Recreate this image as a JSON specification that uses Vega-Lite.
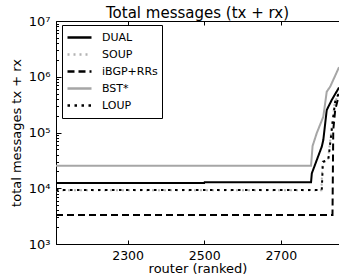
{
  "$schema": "https://vega.github.io/schema/vega-lite/v6.json",
  "autosize": "none",
  "width": 283,
  "height": 223,
  "padding": {"left": 56, "top": 21, "right": 0, "bottom": 35},
  "background": "white",
  "title": {"text": "Total messages (tx + rx)", "font": "DejaVu Sans", "fontSize": 15, "fontWeight": "normal", "color": "black", "offset": -6, "anchor": "middle", "frame": "group"},
  "config": {
    "view": {"stroke": "black", "strokeWidth": 1},
    "font": "DejaVu Sans",
    "axis": {"grid": false, "domainColor": "black", "tickColor": "black", "labelColor": "black", "titleColor": "black", "labelFont": "DejaVu Sans", "titleFont": "DejaVu Sans", "labelFontSize": 13, "titleFontSize": 13, "titleFontWeight": "normal"}
  },
  "data": {"values": [
    {"scheme": "DUAL", "router": 2113, "msgs": 12400},
    {"scheme": "DUAL", "router": 2500, "msgs": 12400},
    {"scheme": "DUAL", "router": 2501, "msgs": 12800},
    {"scheme": "DUAL", "router": 2779, "msgs": 12800},
    {"scheme": "DUAL", "router": 2781, "msgs": 18500},
    {"scheme": "DUAL", "router": 2794, "msgs": 32100},
    {"scheme": "DUAL", "router": 2807, "msgs": 55600},
    {"scheme": "DUAL", "router": 2811, "msgs": 73300},
    {"scheme": "DUAL", "router": 2820, "msgs": 253000},
    {"scheme": "DUAL", "router": 2833, "msgs": 383000},
    {"scheme": "DUAL", "router": 2852, "msgs": 640000},
    {"scheme": "SOUP", "router": 2113, "msgs": 9200},
    {"scheme": "SOUP", "router": 2806, "msgs": 9200},
    {"scheme": "SOUP", "router": 2809, "msgs": 29000},
    {"scheme": "SOUP", "router": 2823, "msgs": 31500},
    {"scheme": "SOUP", "router": 2836, "msgs": 185000},
    {"scheme": "SOUP", "router": 2841, "msgs": 350000},
    {"scheme": "SOUP", "router": 2852, "msgs": 500000},
    {"scheme": "iBGP+RRs", "router": 2113, "msgs": 3310},
    {"scheme": "iBGP+RRs", "router": 2835, "msgs": 3310},
    {"scheme": "iBGP+RRs", "router": 2837, "msgs": 111000},
    {"scheme": "iBGP+RRs", "router": 2842, "msgs": 253000},
    {"scheme": "iBGP+RRs", "router": 2852, "msgs": 480000},
    {"scheme": "BST*", "router": 2113, "msgs": 25400},
    {"scheme": "BST*", "router": 2779, "msgs": 25400},
    {"scheme": "BST*", "router": 2783, "msgs": 57300},
    {"scheme": "BST*", "router": 2794, "msgs": 98000},
    {"scheme": "BST*", "router": 2811, "msgs": 192000},
    {"scheme": "BST*", "router": 2820, "msgs": 540000},
    {"scheme": "BST*", "router": 2829, "msgs": 664000},
    {"scheme": "BST*", "router": 2852, "msgs": 1480000},
    {"scheme": "LOUP", "router": 2113, "msgs": 9300},
    {"scheme": "LOUP", "router": 2807, "msgs": 9300},
    {"scheme": "LOUP", "router": 2810, "msgs": 29900},
    {"scheme": "LOUP", "router": 2824, "msgs": 32100},
    {"scheme": "LOUP", "router": 2837, "msgs": 192000},
    {"scheme": "LOUP", "router": 2842, "msgs": 357000},
    {"scheme": "LOUP", "router": 2852, "msgs": 520000}
  ]},
  "layer": [
    {
      "mark": {"type": "line", "strokeWidth": 2, "clip": true, "interpolate": "linear"},
      "encoding": {
        "x": {"field": "router", "type": "quantitative", "scale": {"domain": [2113, 2852], "nice": false, "zero": false},
              "axis": {"title": "router (ranked)", "values": [2300, 2500, 2700], "format": "d", "tickSize": -4, "labelFontSize": 12.5, "labelPadding": 9, "titlePadding": 1, "labelFlush": false}},
        "y": {"field": "msgs", "type": "quantitative", "scale": {"type": "log", "domain": [1000, 10000000], "nice": false},
              "axis": {"title": "total messages tx + rx",
                       "values": [1000, 2000, 3000, 4000, 5000, 6000, 7000, 8000, 9000, 10000, 20000, 30000, 40000, 50000, 60000, 70000, 80000, 90000, 100000, 200000, 300000, 400000, 500000, 600000, 700000, 800000, 900000, 1000000, 2000000, 3000000, 4000000, 5000000, 6000000, 7000000, 8000000, 9000000, 10000000],
                       "tickSize": {"condition": {"test": "abs(log(datum.value)/LN10 - round(log(datum.value)/LN10)) < 0.001", "value": -5}, "value": -2.5},
                       "labelPadding": 11, "titlePadding": 5, "labelOverlap": false,
                       "labelExpr": "abs(log(datum.value)/LN10 - round(log(datum.value)/LN10)) < 0.001 ? '10' + ['⁰','¹','²','³','⁴','⁵','⁶','⁷'][round(log(datum.value)/LN10)] : ''"}},
        "color": {"field": "scheme", "type": "nominal",
                  "scale": {"domain": ["DUAL", "SOUP", "iBGP+RRs", "BST*", "LOUP"], "range": ["black", "#b3b3b3", "black", "#a6a6a6", "black"]},
                  "legend": {"title": null, "orient": "none", "legendX": 6, "legendY": 4, "symbolType": "stroke", "symbolSize": 576, "symbolStrokeWidth": 2.5,
                             "labelFontSize": 11, "labelFont": "DejaVu Sans", "labelColor": "black", "labelOffset": 9, "padding": 4, "rowPadding": 0, "clipHeight": 17,
                             "strokeColor": "black", "fillColor": "white", "cornerRadius": 0}},
        "strokeDash": {"field": "scheme", "type": "nominal",
                       "scale": {"domain": ["DUAL", "SOUP", "iBGP+RRs", "BST*", "LOUP"], "range": [[1, 0], [2, 4], [7, 4], [1, 0], [2.5, 4.5]]},
                       "legend": {"title": null, "orient": "none", "legendX": 6, "legendY": 4}},
        "order": {"field": "router", "type": "quantitative"}
      }
    },
    {
      "mark": {"type": "line", "opacity": 0, "clip": true},
      "encoding": {
        "x": {"field": "router", "type": "quantitative",
              "axis": {"orient": "top", "title": null, "values": [2300, 2500, 2700], "labels": false, "domain": false, "tickSize": -4}},
        "y": {"field": "msgs", "type": "quantitative"},
        "detail": {"field": "scheme"}
      }
    }
  ],
  "resolve": {"axis": {"x": "independent"}}
}
